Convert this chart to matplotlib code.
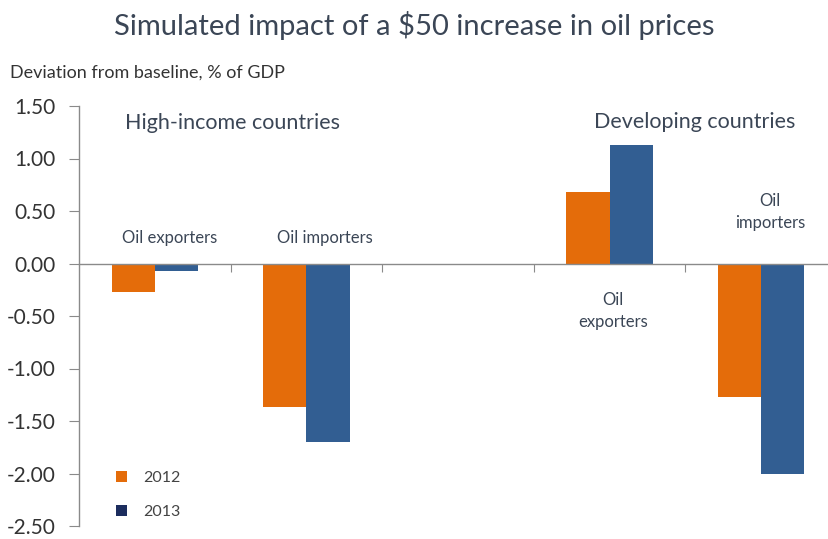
import numpy as np
import matplotlib.pyplot as plt
from matplotlib.patches import Patch

plt.rcParams['font.family'] = ['Lato', 'DejaVu Sans']

# Five slots: the middle one is an empty spacer between the two country groups
groups = ["HI exporters", "HI importers", "", "Dev exporters", "Dev importers"]
v2012 = [-0.27, -1.37, np.nan, 0.68, -1.27]
v2013 = [-0.07, -1.70, np.nan, 1.13, -2.00]
years = ["2012", "2013"]
yticks = [1.5, 1.0, 0.5, 0.0, -0.5, -1.0, -1.5, -2.0, -2.5]

ORANGE = "#E46C0A"
BLUE = "#325E92"
NAVY = "#1C2D5E"
TXT = "#3B4656"
GREY = "#8A8A8A"

W, H = 829, 539
fig = plt.figure(figsize=(W / 100, H / 100), dpi=100)
ax = fig.add_axes([79 / W, 13 / H, (837 - 79) / W, (526 - 106) / H])

x = np.arange(len(groups))
bw = 0.285
ax.bar(x - bw / 2, v2012, bw, color=ORANGE)
ax.bar(x + bw / 2, v2013, bw, color=BLUE)

ax.set_xlim(-0.5, 4.5)
ax.set_ylim(-2.5, 1.5)
ax.set_yticks(yticks)
ax.set_yticklabels([f"{v:.2f}" for v in yticks])
ax.set_xticks(x[:-1] + 0.5)
ax.set_xticklabels([])

for s in ("top", "right"):
    ax.spines[s].set_visible(False)
ax.spines["bottom"].set_position(("data", 0))
for s in ("left", "bottom"):
    ax.spines[s].set_color(GREY)
    ax.spines[s].set_linewidth(1.0)
ax.tick_params(axis="y", direction="out", length=7, color=GREY,
               labelsize=15, labelcolor="#333333", pad=10)
ax.tick_params(axis="x", direction="out", length=6, color=GREY)

# group headings and bar labels
ax.text(0.51, 1.34, "High-income countries", fontsize=15.5, color=TXT,
        ha="center", va="center")
ax.text(3.56, 1.35, "Developing countries", fontsize=15.5, color=TXT,
        ha="center", va="center")
ax.text(0.10, 0.24, "Oil exporters", fontsize=12, color=TXT, ha="center", va="center")
ax.text(1.12, 0.24, "Oil importers", fontsize=12, color=TXT, ha="center", va="center")
ax.text(3.02, -0.45, "Oil\nexporters", fontsize=12, color=TXT, ha="center",
        va="center", linespacing=1.45)
ax.text(4.06, 0.49, "Oil\nimporters", fontsize=12, color=TXT, ha="center",
        va="center", linespacing=1.45)

fig.text(0.5, 1 - 25 / H, "Simulated impact of a $50 increase in oil prices",
         fontsize=21, color=TXT, ha="center", va="center")
fig.text(10 / W, 1 - 73 / H, "Deviation from baseline, % of GDP",
         fontsize=13, color="#333333", ha="left", va="center")

handles = [Patch(facecolor=ORANGE), Patch(facecolor=NAVY)]
ax.legend(handles, years, loc="lower left", bbox_to_anchor=(0.03, -0.018),
          frameon=False, fontsize=11.5, handlelength=0.7, handleheight=0.7,
          labelspacing=1.25, handletextpad=1.0, labelcolor="#444444")

fig.savefig("out.png", dpi=100)
